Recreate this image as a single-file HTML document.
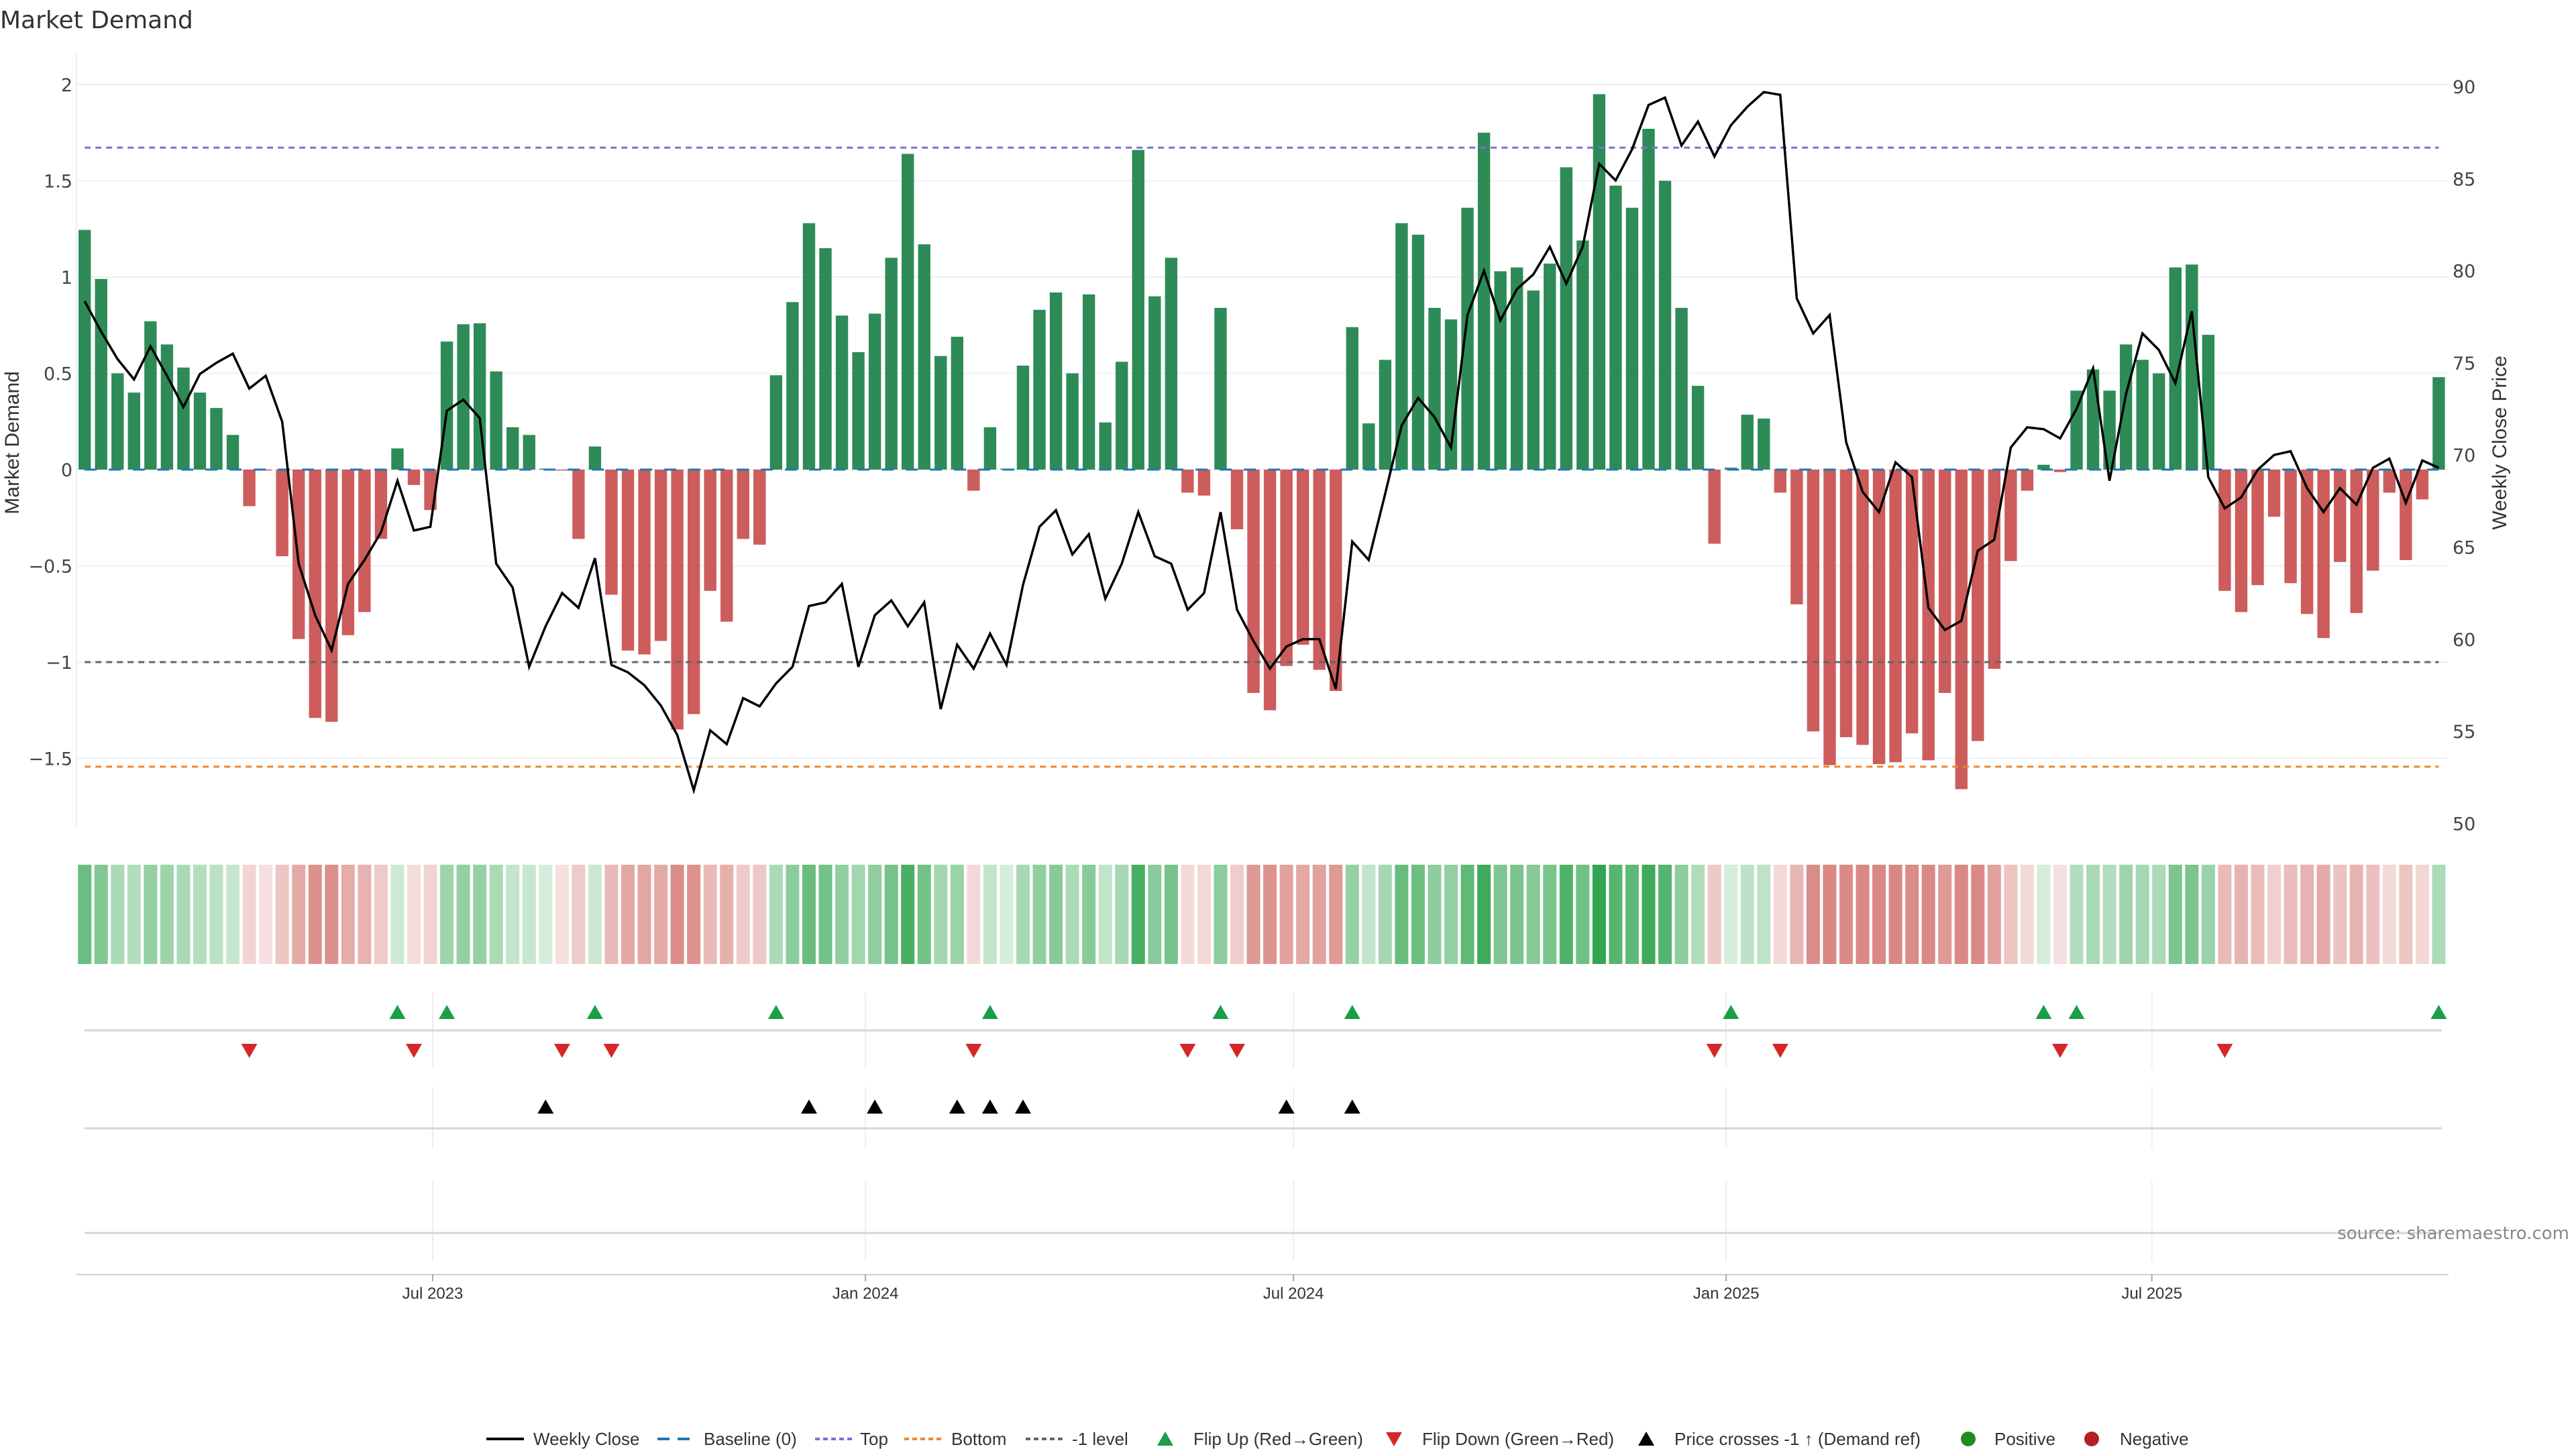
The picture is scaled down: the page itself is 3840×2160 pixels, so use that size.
<!DOCTYPE html>
<html><head><meta charset="utf-8"><title>Market Demand</title>
<style>
html,body{margin:0;padding:0;background:#fff;}
svg{display:block;font-family:"DejaVu Sans","Liberation Sans",sans-serif;}
.tick{font-size:27px;fill:#444;}
.leg{font-family:"Liberation Sans",sans-serif;font-size:26px;fill:#333;}
</style></head>
<body>
<svg id="chart" width="3840" height="2160" viewBox="0 0 3840 2160" xmlns="http://www.w3.org/2000/svg">
<text x="0" y="42" font-size="36" fill="#333">Market Demand</text>
<g id="grid"></g>
<g id="heat"></g>
<g id="bars"></g>
<g id="refs"></g>
<g id="line"></g>
<g id="panels"></g>
<g id="axes"></g>
<text x="3830" y="1847" text-anchor="end" font-size="26" fill="#888">source: sharemaestro.com</text>
<g id="legend"></g>
</svg>
<script>
const demand = [1.245,0.99,0.50,0.40,0.77,0.65,0.53,0.40,0.32,0.18,-0.19,-0.005,-0.45,-0.88,-1.29,-1.31,-0.86,-0.74,-0.36,0.11,
-0.08,-0.21,0.665,0.755,0.76,0.51,0.22,0.18,0.005,-0.005,-0.36,0.12,-0.65,-0.94,-0.96,-0.89,-1.35,-1.27,-0.63,-0.79,
-0.36,-0.39,0.49,0.87,1.28,1.15,0.80,0.61,0.81,1.10,1.64,1.17,0.59,0.69,-0.11,0.22,0.005,0.54,0.83,0.92,
0.50,0.91,0.245,0.56,1.66,0.90,1.10,-0.12,-0.135,0.84,-0.31,-1.16,-1.25,-1.02,-0.91,-1.04,-1.15,0.74,0.24,0.57,
1.28,1.22,0.84,0.78,1.36,1.75,1.03,1.05,0.93,1.07,1.57,1.19,1.95,1.475,1.36,1.77,1.50,0.84,0.435,-0.385,
0.01,0.285,0.265,-0.12,-0.70,-1.36,-1.535,-1.39,-1.43,-1.53,-1.52,-1.37,-1.51,-1.16,-1.66,-1.41,-1.035,-0.475,-0.11,0.025,
-0.013,0.41,0.52,0.41,0.65,0.57,0.50,1.05,1.065,0.70,-0.63,-0.74,-0.60,-0.245,-0.59,-0.75,-0.875,-0.48,-0.745,-0.525,
-0.12,-0.47,-0.155,0.48];
const price = [78.35,76.7,75.2,74.1,75.9,74.3,72.6,74.4,75.0,75.5,73.6,74.3,71.8,64.1,61.3,59.4,63.0,64.3,65.8,68.6,
65.9,66.1,72.4,73.0,72.0,64.1,62.8,58.5,60.7,62.5,61.7,64.4,58.6,58.2,57.5,56.4,54.8,51.8,55.05,54.3,
56.8,56.35,57.6,58.5,61.8,62.0,63.0,58.5,61.3,62.1,60.7,62.0,56.2,59.7,58.4,60.3,58.6,62.95,66.1,67.0,
64.6,65.7,62.2,64.1,66.9,64.5,64.1,61.6,62.5,66.9,61.6,59.9,58.4,59.6,60.0,60.0,57.3,65.3,64.3,67.9,
71.6,73.1,72.05,70.4,77.6,80.0,77.3,79.0,79.8,81.3,79.3,81.3,85.8,84.9,86.6,89.0,89.4,86.8,88.1,86.2,
87.9,88.9,89.7,89.55,78.5,76.6,77.6,70.7,68.0,66.9,69.6,68.8,61.7,60.5,61.0,64.8,65.4,70.4,71.5,71.4,
70.9,72.5,74.7,68.6,73.3,76.6,75.7,73.9,77.8,68.8,67.1,67.7,69.2,70.0,70.2,68.2,66.9,68.2,67.3,69.3,
69.8,67.4,69.7,69.3];
const leftTicks = [2,1.5,1,0.5,0,-0.5,-1,-1.5];
const leftTickLabels = ["2","1.5","1","0.5","0","−0.5","−1","−1.5"];
const rightTicks = [90,85,80,75,70,65,60,55,50];
const monthTicks = ["2023-07-01","2024-01-01","2024-07-01","2025-01-01","2025-07-01"];
const monthLabels = ["Jul 2023","Jan 2024","Jul 2024","Jan 2025","Jul 2025"];
const topLevel = 1.672, bottomLevel = -1.543, minusLevel = -1;
const startDate = "2023-02-03";

const NS = "http://www.w3.org/2000/svg";
function mk(tag, attrs, parent, txt){const e=document.createElementNS(NS,tag);for(const k in attrs)e.setAttribute(k,attrs[k]);if(txt!==undefined)e.textContent=txt;parent.appendChild(e);return e;}
const X0=126.2, DX=24.54;
const xIdx = k => X0 + DX*k;
const start = new Date(startDate+"T00:00:00Z").getTime();
const xDate = s => xIdx((new Date(s+"T00:00:00Z").getTime()-start)/(7*864e5));
const yL = v => 700 - 287*v;
const yR = p => 129 + (90-p)*27.46;
const pR = y => 90 - (y-129)/27.46;
const PL=114, PR=3650;

const grid=document.getElementById('grid');
leftTicks.forEach((v,i)=>{
  const g=mk('line',{x1:PL,x2:PR,y1:yL(v),y2:yL(v),stroke:'#eef0f3','stroke-width':2},grid);
  
  
});
const axes=document.getElementById('axes');
const al=mk('line',{x1:PL,x2:PL,y1:78,y2:1232,stroke:'#eef0f3','stroke-width':2},axes);


leftTicks.forEach((v,i)=>{
  const t=mk('text',{x:108,y:yL(v)+10,'text-anchor':'end',class:'tick'},axes,leftTickLabels[i]);
  
  
});
rightTicks.forEach(p=>{
  const t=mk('text',{x:3656,y:yR(p)+10,class:'tick'},axes,String(p));
  
  
});
const yt=mk('text',{x:0,y:0,transform:'translate(28,660) rotate(-90)','text-anchor':'middle','font-size':30,fill:'#333','font-family':'Liberation Sans, sans-serif'},axes,'Market Demand');


const yt2=mk('text',{x:0,y:0,transform:'translate(3736,660) rotate(-90)','text-anchor':'middle','font-size':30,fill:'#333','font-family':'Liberation Sans, sans-serif'},axes,'Weekly Close Price');


const xa=mk('line',{x1:PL,x2:PR,y1:1900,y2:1900,stroke:'#d0d0d0','stroke-width':2},axes);


monthTicks.forEach((d,i)=>{
  const x=xDate(d);
  const tk=mk('line',{x1:x,x2:x,y1:1900,y2:1910,stroke:'#aaa','stroke-width':2},axes);
  
  
  const t=mk('text',{x:x,y:1936,'text-anchor':'middle','font-size':24,fill:'#333','font-family':'Liberation Sans, sans-serif'},axes,monthLabels[i]);
  
  
});

// bars
const bars=document.getElementById('bars');
demand.forEach((v,k)=>{
  const y0=yL(0), y1=yL(v);
  const r=mk('rect',{x:xIdx(k)-9.2,y:Math.min(y0,y1),width:18.4,height:Math.max(0.5,Math.abs(y1-y0)),fill:v>=0?'#2e8b57':'#cd5c5c'},bars);
  
  
});
// heat strip
const heat=document.getElementById('heat');
demand.forEach((v,k)=>{
  const pos=v>=0;
  const a=pos?Math.min(1,0.2+0.42*Math.abs(v)):Math.min(0.78,0.2+0.4*Math.abs(v));
  const c=mk('rect',{x:xIdx(k)-10,y:1289,width:20,height:148,fill:pos?'#32a550':'#cf6660','fill-opacity':a.toFixed(3)},heat);
  
  
});
// reference lines
const refs=document.getElementById('refs');
const xs=xIdx(0), xe=xIdx(demand.length-1);
[[0,'#1f77b4','18,18','baseline-zero'],[topLevel,'#7b6fd6','9,7','top-line'],[bottomLevel,'#e88a2c','9,7','bottom-line'],[minusLevel,'#666','9,7','minus-one-level-line']].forEach(([v,c,d,n])=>{
  const l=mk('line',{x1:xs,x2:xe,y1:yL(v),y2:yL(v),stroke:c,'stroke-width':3,'stroke-dasharray':d},refs);
  
  
});
// price line
const lineG=document.getElementById('line');
const pl=mk('polyline',{points:price.map((p,k)=>xIdx(k).toFixed(1)+','+yR(p).toFixed(1)).join(' '),fill:'none',stroke:'#000','stroke-width':3.5,'stroke-linejoin':'miter'},lineG);



// panels
const panels=document.getElementById('panels');
[[1480,1592],[1620,1712],[1760,1880]].forEach(([a,b])=>{
  monthTicks.forEach(d=>{const x=xDate(d);const g=mk('line',{x1:x,x2:x,y1:a,y2:b,stroke:'#eeeeee','stroke-width':2},panels);
    
    });
});
[1536,1682,1838].forEach(y=>{const l=mk('line',{x1:126,x2:3640,y1:y,y2:y,stroke:'#d6d6d6','stroke-width':3},panels);
  
  });
function tri(x,y,up,color,parent){return mk('polygon',{points:up?`${x-12},${y+10} ${x+12},${y+10} ${x},${y-11}`:`${x-12},${y-10} ${x+12},${y-10} ${x},${y+11}`,fill:color},parent);}
const levelPrice=pR(yL(minusLevel));
for(let k=1;k<demand.length;k++){
  if(demand[k]>0 && demand[k-1]<=0){const t=tri(xIdx(k),1509,true,'#1a9e48',panels);
    
    }
  if(demand[k]<0 && demand[k-1]>=0){const t=tri(xIdx(k),1566,false,'#d62728',panels);
    
    }
  if(price[k]>=levelPrice && price[k-1]<levelPrice){const t=tri(xIdx(k),1650,true,'#000',panels);
    
    }
}

// legend
const leg=document.getElementById('legend');
const LY=2145;
function legText(x,s){const t=mk('text',{x:x,y:LY+9,class:'leg'},leg,s);}
function legLine(x,c,d,name){const l=mk('line',{x1:x,x2:x+56,y1:LY,y2:LY,stroke:c,'stroke-width':4,'stroke-dasharray':d},leg);
  
  }
legLine(725,'#000','none','legend-weekly-close'); legText(795,'Weekly Close');
legLine(980,'#1f77b4','18,12','legend-baseline'); legText(1049,'Baseline (0)');
legLine(1215,'#7b6fd6','7,5','legend-top'); legText(1282,'Top');
legLine(1348,'#e88a2c','7,5','legend-bottom'); legText(1418,'Bottom');
legLine(1529,'#666','7,5','legend-minus-one'); legText(1598,'-1 level');
let t1=tri(1737,LY,true,'#1a9e48',leg);


legText(1779,'Flip Up (Red→Green)');
let t2=tri(2078,LY,false,'#d62728',leg);


legText(2120,'Flip Down (Green→Red)');
let t3=tri(2454,LY,true,'#000',leg);


legText(2496,'Price crosses -1 ↑ (Demand ref)');
let c1=mk('circle',{cx:2934,cy:LY,r:11,fill:'#228b22'},leg);


legText(2973,'Positive');
let c2=mk('circle',{cx:3118,cy:LY,r:11,fill:'#b22222'},leg);


legText(3160,'Negative');
</script>
</body></html>
